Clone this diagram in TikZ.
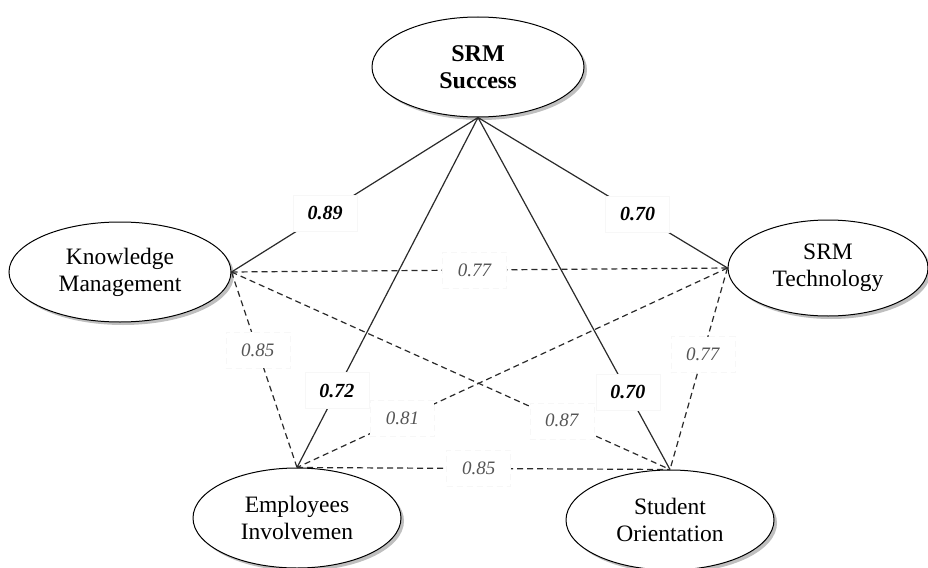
\documentclass[tikz,border=0pt]{standalone}
\usepackage{fontspec}
\setmainfont{Liberation Serif}
\usetikzlibrary{shapes.geometric,shadows}
\definecolor{lblgray}{HTML}{555555}
\definecolor{linegray}{HTML}{2A2A2A}
\begin{document}
\begin{tikzpicture}[x=1pt,y=-1pt,
  construct/.style={ellipse,draw=black,line width=1pt,fill=white,inner sep=0pt,align=center,
    font=\fontsize{23.5}{27}\selectfont,
    drop shadow={shadow xshift=3pt,shadow yshift=-3pt,fill=black,opacity=0.25}},
  solidlink/.style={draw=linegray,line width=1.2pt},
  dashlink/.style={draw=linegray,line width=1.2pt,dash pattern=on 6pt off 4pt},
  boldlbl/.style={fill=white,draw=black!3,line width=0.4pt,minimum width=64pt,minimum height=36pt,inner sep=0pt,
    font=\fontsize{20}{22}\selectfont\bfseries\itshape,text=black},
  dashlbl/.style={fill=white,draw=black!3,line width=0.4pt,minimum width=64pt,minimum height=36pt,inner sep=0pt,
    font=\fontsize{19}{22}\selectfont\itshape,text=lblgray}
]
\useasboundingbox (0,0) rectangle (928,567);
\fill[white] (0,0) rectangle (928,567);

\node[construct,minimum width=212pt,minimum height=100pt,font=\fontsize{24}{27}\selectfont\bfseries] (ss) at (478,67) {SRM\\Success};
\node[construct,minimum width=222pt,minimum height=100pt] (km) at (120,272) {Knowledge\\Management};
\node[construct,minimum width=200pt,minimum height=96pt] (st) at (828,268) {SRM\\Technology};
\node[construct,minimum width=208pt,minimum height=100pt] (ei) at (297,518) {Employees\\Involvemen};
\node[construct,minimum width=208pt,minimum height=100pt] (so) at (670,520) {Student\\Orientation};

% dashed correlations
\path[dashlink] (km.east) -- node[dashlbl,pos=0.49] (l1) {0.77} (st.west);
\path[dashlink] (km.east) -- node[dashlbl,pos=0.40] (l2) {0.85} (ei.north);
\path[dashlink] (km.east) -- node[dashlbl,pos=0.753] (l3) {0.87} (so.north);
\path[dashlink] (st.west) -- node[dashlbl,pos=0.755] (l4) {0.81} (ei.north);
\path[dashlink] (st.west) -- node[dashlbl,pos=0.43] (l5) {0.77} (so.north);
\path[dashlink] (ei.north) -- node[dashlbl,pos=0.487] (l6) {0.85} (so.north);

% solid paths
\path[solidlink] (ss.south) -- node[boldlbl,pos=0.62] (p1) {0.89} (km.east);
\path[solidlink] (ss.south) -- node[boldlbl,pos=0.64] (p2) {0.70} (st.west);
\path[solidlink] (ss.south) -- node[boldlbl,pos=0.78] (p3) {0.72} (ei.north);
\path[solidlink] (ss.south) -- node[boldlbl,pos=0.78] (p4) {0.70} (so.north);
\end{tikzpicture}
\end{document}
